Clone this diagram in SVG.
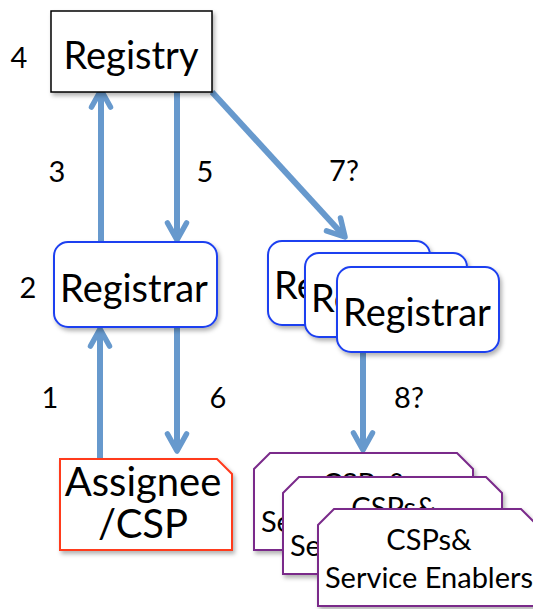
<svg xmlns="http://www.w3.org/2000/svg" width="533" height="609" viewBox="0 0 533 609">
<defs>
<filter id="sh" x="-10%" y="-10%" width="125%" height="130%">
<feDropShadow dx="2" dy="3" stdDeviation="2" flood-color="#000" flood-opacity="0.3"/>
</filter>
<marker id="ah" viewBox="-24 -14 28 28" markerWidth="28" markerHeight="28" markerUnits="userSpaceOnUse" refX="0" refY="0" orient="auto">
<path d="M-17,-9.5 L0,0 L-17,9.5" fill="none" stroke="#6799CD" stroke-width="5.5" stroke-linecap="round" stroke-linejoin="round"/>
</marker>
<style>
.t{font-family:Lato,"Open Sans",sans-serif;fill:#000}
.big{font-size:38px}
.mid{font-size:38px}
.asg{font-size:40px}
.sm{font-size:29px}
.lbl{font-size:29px}
.reg{fill:#fff;stroke:#1E40F0;stroke-width:2}
.csp{fill:#fff;stroke:#7A2A8A;stroke-width:2}
.c{stroke:#6799CD;stroke-width:6;fill:none;marker-end:url(#ah)}
</style>
</defs>
<rect width="533" height="609" fill="#fff"/>
<g id="connectors">
<line class="c" x1="101" y1="242" x2="101" y2="90"/>
<line class="c" x1="177" y1="92" x2="177" y2="240"/>
<line class="c" x1="212" y1="92" x2="345" y2="237"/>
<line class="c" x1="100" y1="459" x2="100" y2="329"/>
<line class="c" x1="177" y1="327" x2="177" y2="451"/>
<line class="c" x1="363" y1="352" x2="363" y2="450"/>
</g>
<g id="registry">
<rect x="51" y="11" width="161" height="81" fill="#fff" stroke="#000" stroke-width="1.5" filter="url(#sh)"/>
<text class="t big" x="131" y="69" text-anchor="middle">Registry</text>
</g>
<g id="registrar">
<rect class="reg" x="54" y="242" width="163" height="85" rx="14" filter="url(#sh)"/>
<text class="t mid" x="134" y="302" text-anchor="middle">Registrar</text>
</g>
<g id="registrar-1">
<rect class="reg" x="268" y="241" width="162" height="84" rx="14" filter="url(#sh)"/>
<text class="t mid" x="348" y="299" text-anchor="middle">Registrar</text>
</g>
<g id="registrar-2">
<rect class="reg" x="305" y="253" width="162" height="84" rx="14" filter="url(#sh)"/>
<text class="t mid" x="385" y="312" text-anchor="middle">Registrar</text>
</g>
<g id="registrar-3">
<rect class="reg" x="337" y="267" width="162" height="85" rx="14" filter="url(#sh)"/>
<text class="t mid" x="417" y="326" text-anchor="middle">Registrar</text>
</g>
<g id="assignee">
<path d="M60,459 L217,459 L232,474 L232,550 L60,550 Z" fill="#fff" stroke="#FF3B1F" stroke-width="2" filter="url(#sh)"/>
<text class="t asg" x="143" y="496" text-anchor="middle">Assignee</text>
<text class="t asg" x="143" y="538" text-anchor="middle">/CSP</text>
</g>
<g id="csps-1">
<path class="csp" d="M254,469 L270,453 L457,453 L473,469 L473,550 L254,550 Z" filter="url(#sh)"/>
<text class="t sm" x="365" y="494" text-anchor="middle">CSPs&amp;</text>
<text class="t sm" x="365" y="532" text-anchor="middle">Service Enablers</text>
</g>
<g id="csps-2">
<path class="csp" d="M283,493 L299,477 L486,477 L502,493 L502,574 L283,574 Z" filter="url(#sh)"/>
<text class="t sm" x="394" y="518" text-anchor="middle">CSPs&amp;</text>
<text class="t sm" x="394" y="556" text-anchor="middle">Service Enablers</text>
</g>
<g id="csps-3">
<path class="csp" d="M318,525 L334,509 L521,509 L537,525 L537,606 L318,606 Z" filter="url(#sh)"/>
<text class="t sm" x="429" y="550" text-anchor="middle">CSPs&amp;</text>
<text class="t sm" x="429" y="588" text-anchor="middle">Service Enablers</text>
</g>
<g id="labels">
<text class="t lbl" x="19" y="68" text-anchor="middle">4</text>
<text class="t lbl" x="57" y="182" text-anchor="middle">3</text>
<text class="t lbl" x="205" y="182" text-anchor="middle">5</text>
<text class="t lbl" x="344" y="181" text-anchor="middle">7?</text>
<text class="t lbl" x="28" y="298" text-anchor="middle">2</text>
<text class="t lbl" x="50" y="408" text-anchor="middle">1</text>
<text class="t lbl" x="218" y="408" text-anchor="middle">6</text>
<text class="t lbl" x="409" y="408" text-anchor="middle">8?</text>
</g>
</svg>
